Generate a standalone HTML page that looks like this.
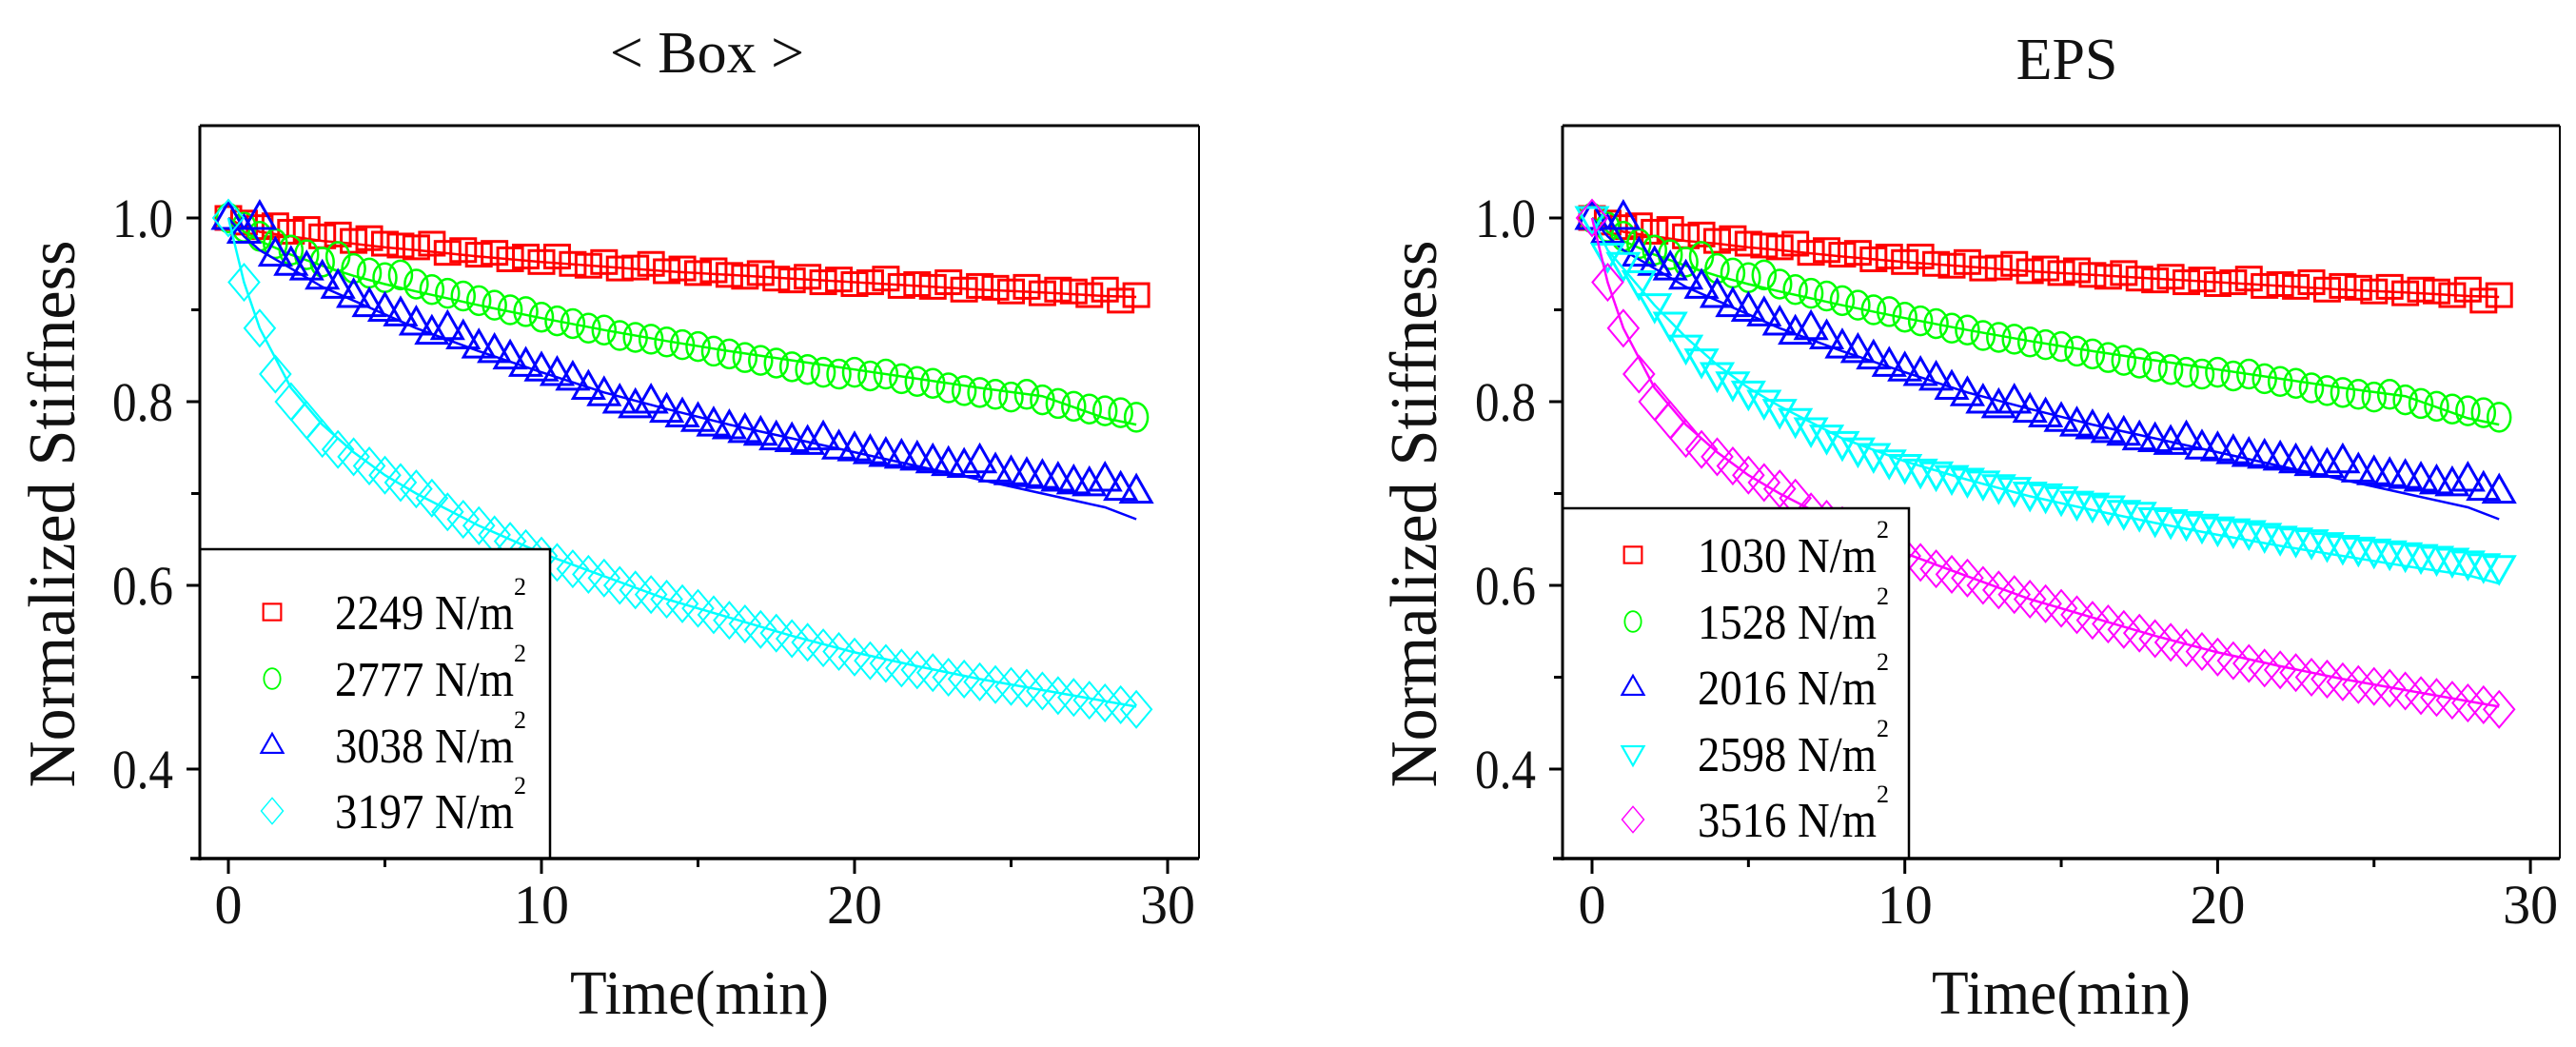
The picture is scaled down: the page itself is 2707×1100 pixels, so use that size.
<!DOCTYPE html>
<html><head><meta charset="utf-8"><style>
html,body{margin:0;padding:0;background:#fff;}
svg{display:block;}
svg text{font-family:"Liberation Serif","DejaVu Serif",serif;}
</style></head><body>
<svg id="fig" width="2707" height="1100" viewBox="0 0 2707 1100" xmlns="http://www.w3.org/2000/svg" font-family="Liberation Serif, serif"></svg>
<script>
const times=[0,0.5,1,1.5,2,2.5,3,3.5,4,4.5,5,5.5,6,6.5,7,7.5,8,8.5,9,9.5,10,10.5,11,11.5,12,12.5,13,13.5,14,14.5,15,15.5,16,16.5,17,17.5,18,18.5,19,19.5,20,20.5,21,21.5,22,22.5,23,23.5,24,24.5,25,25.5,26,26.5,27,27.5,28,28.5,29];
const redVals=[1.000,0.995,0.990,0.992,0.985,0.988,0.980,0.982,0.975,0.978,0.972,0.970,0.968,0.972,0.962,0.965,0.960,0.962,0.955,0.958,0.952,0.958,0.950,0.948,0.952,0.945,0.946,0.950,0.942,0.945,0.940,0.943,0.938,0.936,0.940,0.934,0.932,0.936,0.930,0.933,0.928,0.930,0.934,0.926,0.928,0.925,0.930,0.922,0.926,0.924,0.920,0.925,0.918,0.922,0.920,0.916,0.922,0.910,0.916];
const greenVals=[1.000,0.990,0.980,0.972,0.965,0.960,0.952,0.958,0.945,0.940,0.935,0.938,0.928,0.922,0.918,0.915,0.910,0.905,0.900,0.898,0.892,0.888,0.885,0.880,0.878,0.872,0.870,0.868,0.865,0.862,0.860,0.855,0.852,0.848,0.845,0.842,0.838,0.835,0.832,0.830,0.832,0.828,0.830,0.825,0.822,0.820,0.815,0.812,0.810,0.808,0.805,0.808,0.802,0.798,0.795,0.792,0.790,0.788,0.783];
const blueVals=[1.000,0.985,1.000,0.960,0.950,0.945,0.935,0.925,0.915,0.905,0.900,0.895,0.885,0.875,0.880,0.870,0.860,0.855,0.848,0.840,0.835,0.830,0.825,0.815,0.808,0.800,0.795,0.800,0.790,0.785,0.780,0.775,0.772,0.768,0.765,0.760,0.758,0.755,0.760,0.750,0.748,0.745,0.742,0.740,0.738,0.735,0.732,0.730,0.735,0.725,0.722,0.720,0.718,0.715,0.712,0.710,0.715,0.705,0.702];
const diamondVals=[1.000,0.930,0.880,0.830,0.800,0.780,0.760,0.748,0.740,0.730,0.720,0.712,0.705,0.695,0.680,0.672,0.665,0.655,0.648,0.640,0.632,0.625,0.618,0.612,0.608,0.600,0.595,0.590,0.585,0.580,0.575,0.568,0.562,0.558,0.552,0.548,0.542,0.538,0.532,0.528,0.522,0.518,0.515,0.510,0.508,0.505,0.500,0.498,0.495,0.492,0.490,0.488,0.485,0.480,0.478,0.475,0.472,0.470,0.465];
const downTriVals=[1.000,0.960,0.950,0.930,0.905,0.885,0.860,0.845,0.830,0.820,0.810,0.800,0.790,0.780,0.770,0.762,0.755,0.748,0.742,0.735,0.730,0.725,0.722,0.718,0.715,0.712,0.708,0.705,0.700,0.698,0.695,0.690,0.688,0.685,0.680,0.678,0.672,0.670,0.668,0.665,0.662,0.660,0.658,0.655,0.652,0.650,0.648,0.645,0.642,0.640,0.638,0.636,0.634,0.632,0.630,0.628,0.625,0.622,0.620];
const fitTimes=[0,0.5,1,2,3,4,5,6,8,10,12,14,16,18,20,22,24,26,28,29];
const redFit=[1.0,0.99,0.985,0.98,0.975,0.972,0.968,0.965,0.958,0.952,0.947,0.942,0.938,0.934,0.930,0.926,0.922,0.919,0.915,0.914];
const greenFit=[1.0,0.985,0.975,0.96,0.948,0.937,0.928,0.92,0.905,0.891,0.878,0.866,0.855,0.845,0.835,0.825,0.815,0.806,0.782,0.775];
const blueFit=[1.0,0.98,0.965,0.945,0.925,0.91,0.895,0.88,0.855,0.832,0.81,0.792,0.775,0.76,0.745,0.73,0.715,0.700,0.685,0.672];
const diamondFit=[1.0,0.93,0.88,0.815,0.775,0.745,0.72,0.70,0.665,0.635,0.61,0.585,0.565,0.545,0.527,0.512,0.498,0.486,0.474,0.468];
const downTriFit=[1.0,0.965,0.945,0.905,0.87,0.84,0.815,0.795,0.76,0.735,0.715,0.697,0.682,0.668,0.655,0.643,0.632,0.621,0.611,0.602];
const xTicks=[0,10,20,30];
const xMinor=[5,15,25];
const yTicks=[0.4,0.6,0.8,1.0];
const yMinor=[0.5,0.7,0.9];
const boxLabels=["2249","2777","3038","3197"];
const epsLabels=["1030","1528","2016","2598","3516"];

const NS="http://www.w3.org/2000/svg";
const svg=document.getElementById('fig');
const FF='"Liberation Serif", "DejaVu Serif", serif';
function mk(tag,attrs,parent){const e=document.createElementNS(NS,tag);for(const k in attrs)e.setAttribute(k,attrs[k]);if(tag==='text')e.style.fontFamily=FF;(parent||svg).appendChild(e);return e;}

function marker(g,shape,cx,cy,color){
  let e;
  if(shape==='square'){e=mk('rect',{x:cx-13,y:cy-12,width:26,height:24,fill:'none',stroke:color,'stroke-width':3},g);}
  else if(shape==='circle'){e=mk('ellipse',{cx:cx,cy:cy,rx:12,ry:15,fill:'none',stroke:color,'stroke-width':2.5},g);}
  else if(shape==='up'){e=mk('polygon',{points:`${cx},${cy-17} ${cx-16},${cy+11} ${cx+16},${cy+11}`,fill:'none',stroke:color,'stroke-width':3},g);}
  else if(shape==='down'){e=mk('polygon',{points:`${cx},${cy+17} ${cx-16},${cy-11} ${cx+16},${cy-11}`,fill:'none',stroke:color,'stroke-width':3},g);}
  else {e=mk('polygon',{points:`${cx},${cy-19} ${cx+16},${cy} ${cx},${cy+19} ${cx-16},${cy}`,fill:'none',stroke:color,'stroke-width':2},g);}
  return e;
}

function panel(cfg){
  const L=cfg.left,R=cfg.right,T=132,B=902;
  const sx=t=>cfg.x0+cfg.xs*t;
  const sy=v=>229+(1.0-v)*965;
  const g=mk('g',{});
  
  
  const title=mk('text',{x:cfg.titleX,y:cfg.titleY,'font-size':62,'text-anchor':'middle',fill:'#111'},g);
  title.textContent=cfg.title;
  
  
  cfg.series.forEach(s=>{
    const sg=mk('g',{},g);
    
    
    s.vals.forEach((v,i)=>{const m=marker(sg,s.shape,sx(times[i]),sy(v),s.color);
      
      });
    const pts=s.fit.map((v,i)=>sx(fitTimes[i]).toFixed(1)+','+sy(v).toFixed(1)).join(' ');
    const pl=mk('polyline',{points:pts,fill:'none',stroke:s.color,'stroke-width':2.5},sg);
    
    
  });
  const lg=mk('g',{},g);
  
  
  mk('rect',{x:L,y:cfg.legTop,width:cfg.legRight-L,height:B-cfg.legTop,fill:'#fff',stroke:'#000','stroke-width':2.5},lg);
  cfg.series.forEach((s,i)=>{
    const y=cfg.legY[i];
    const m=marker(lg,s.shape,cfg.legMx,y,s.color);
    m.setAttribute('transform',`translate(${cfg.legMx},${y}) scale(0.72) translate(${-cfg.legMx},${-y})`);
    
    
    const t=mk('text',{x:cfg.legTx,y:y+18,'font-size':52,fill:'#000',textLength:188,lengthAdjust:'spacingAndGlyphs'},lg);
    t.textContent=s.label+' N/m';
    
    
    const sup=mk('text',{x:cfg.legTx+188,y:y-18,'font-size':26,fill:'#000'},lg);
    sup.textContent='2';
    
    
  });
  const ax=mk('g',{},g);
  
  
  mk('line',{x1:L,y1:T,x2:R,y2:T,stroke:'#000','stroke-width':3},ax);
  mk('line',{x1:R,y1:T,x2:R,y2:B,stroke:'#000','stroke-width':2},ax);
  mk('line',{x1:L-10,y1:B,x2:R,y2:B,stroke:'#000','stroke-width':3.5},ax);
  mk('line',{x1:L,y1:T,x2:L,y2:B+2,stroke:'#000','stroke-width':3},ax);
  yTicks.forEach(v=>{
    mk('line',{x1:L-14,y1:sy(v),x2:L,y2:sy(v),stroke:'#000','stroke-width':3},ax);
    const t=mk('text',{x:L-28,y:sy(v)+20,'font-size':58,'text-anchor':'end',fill:'#111',textLength:64,lengthAdjust:'spacingAndGlyphs'},ax);
    t.textContent=v.toFixed(1);
    
    
  });
  yMinor.forEach(v=>mk('line',{x1:L-9,y1:sy(v),x2:L,y2:sy(v),stroke:'#000','stroke-width':3},ax));
  xTicks.forEach(v=>{
    const t=mk('text',{x:sx(v),y:970,'font-size':58,'text-anchor':'middle',fill:'#111'},ax);
    t.textContent=String(v);
    
    
    mk('line',{x1:sx(v),y1:B,x2:sx(v),y2:B+16,stroke:'#000','stroke-width':3},ax);
  });
  xMinor.forEach(v=>mk('line',{x1:sx(v),y1:B,x2:sx(v),y2:B+9,stroke:'#000','stroke-width':3},ax));
  const xt=mk('text',{x:(L+R)/2,y:1065,'font-size':66,'text-anchor':'middle',fill:'#111',textLength:272,lengthAdjust:'spacingAndGlyphs'},ax);
  xt.textContent='Time(min)';
  
  
  const yt=mk('text',{x:0,y:0,'font-size':70,'text-anchor':'middle',fill:'#111',textLength:575,lengthAdjust:'spacingAndGlyphs',transform:`translate(${cfg.yTitleX},540) rotate(-90)`},ax);
  yt.textContent='Normalized Stiffness';
  
  
}

panel({name:'box',left:210,right:1260,x0:240,xs:32.9,title:'< Box >',titleX:743,titleY:76,yTitleX:78,
  legTop:577,legRight:578,legMx:286,legTx:352,legY:[643,713,783,852],
  series:[
    {label:boxLabels[0],vals:redVals,fit:redFit,shape:'square',color:'#ff0000'},
    {label:boxLabels[1],vals:greenVals,fit:greenFit,shape:'circle',color:'#00ff00'},
    {label:boxLabels[2],vals:blueVals,fit:blueFit,shape:'up',color:'#0000ff'},
    {label:boxLabels[3],vals:diamondVals,fit:diamondFit,shape:'diamond',color:'#00ffff'}
  ]});
panel({name:'eps',left:1642,right:2690,x0:1673,xs:32.87,title:'EPS',titleX:2172,titleY:83,yTitleX:1509,
  legTop:534,legRight:2006,legMx:1716,legTx:1784,legY:[583,653,722,792,861],
  series:[
    {label:epsLabels[0],vals:redVals,fit:redFit,shape:'square',color:'#ff0000'},
    {label:epsLabels[1],vals:greenVals,fit:greenFit,shape:'circle',color:'#00ff00'},
    {label:epsLabels[2],vals:blueVals,fit:blueFit,shape:'up',color:'#0000ff'},
    {label:epsLabels[3],vals:downTriVals,fit:downTriFit,shape:'down',color:'#00ffff'},
    {label:epsLabels[4],vals:diamondVals,fit:diamondFit,shape:'diamond',color:'#ff00ff'}
  ]});
</script>
</body></html>
